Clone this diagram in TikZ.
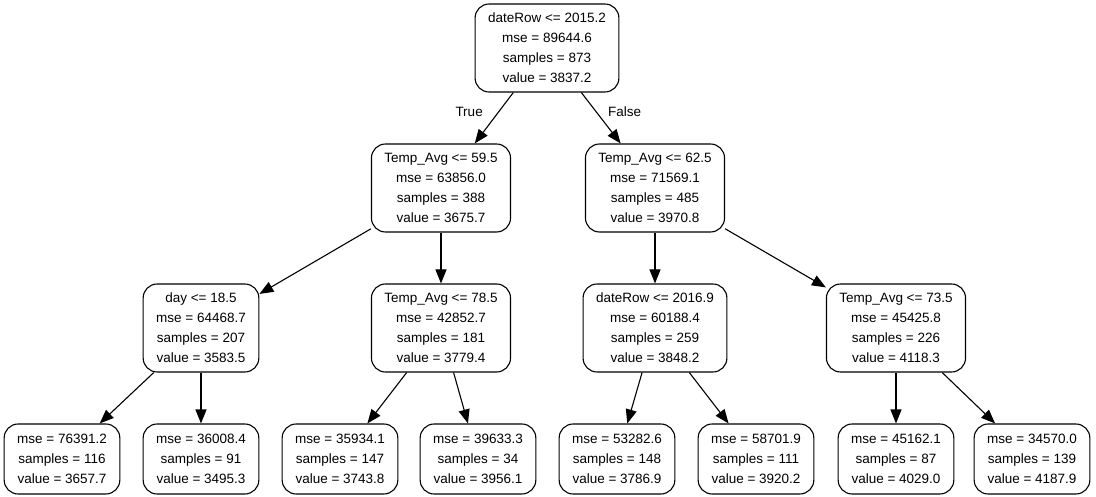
\documentclass[tikz,border=0pt]{standalone}
\usepackage{fontspec}
\setmainfont{Liberation Sans}
\usetikzlibrary{arrows.meta,positioning}

\begin{document}
\begin{tikzpicture}[x=1pt,y=-1pt,on grid,>={Triangle[length=14pt,width=11pt]},
    every node/.style={font=\fontsize{13.5}{20}\selectfont},
    split/.style={draw,line width=1.1pt,rounded corners=14pt,align=center,inner xsep=13pt,minimum height=88pt},
    leaf/.style={split,minimum height=70pt}]
      \useasboundingbox (0,0) rectangle (1096,497);

      \node[split] (n_0) at (547,48) {dateRow <= 2015.2\\mse = 89644.6\\samples = 873\\value = 3837.2};

      \node[split] (n_1) [below left=140pt and 106pt of n_0] {Temp\_Avg <= 59.5\\mse = 63856.0\\samples = 388\\value = 3675.7};
      \node[split] (n_2) [below right=140pt and 108pt of n_0] {Temp\_Avg <= 62.5\\mse = 71569.1\\samples = 485\\value = 3970.8};

      \node[split] (n_11) [below left=140pt and 240pt of n_1] {day <= 18.5\\mse = 64468.7\\samples = 207\\value = 3583.5};
      \node[split] (n_12) [below=140pt of n_1] {Temp\_Avg <= 78.5\\mse = 42852.7\\samples = 181\\value = 3779.4};
      \node[split] (n_21) [below=140pt of n_2] {dateRow <= 2016.9\\mse = 60188.4\\samples = 259\\value = 3848.2};
      \node[split] (n_22) [below right=140pt and 241pt of n_2] {Temp\_Avg <= 73.5\\mse = 45425.8\\samples = 226\\value = 4118.3};

      \node[leaf] (n_111) [below left=131pt and 139pt of n_11] {mse = 76391.2\\samples = 116\\value = 3657.7};
      \node[leaf] (n_112) [below=131pt of n_11] {mse = 36008.4\\samples = 91\\value = 3495.3};
      \node[leaf] (n_121) [below left=131pt and 101pt of n_12] {mse = 35934.1\\samples = 147\\value = 3743.8};
      \node[leaf] (n_122) [below right=131pt and 37pt of n_12] {mse = 39633.3\\samples = 34\\value = 3956.1};
      \node[leaf] (n_211) [below left=131pt and 38pt of n_21] {mse = 53282.6\\samples = 148\\value = 3786.9};
      \node[leaf] (n_212) [below right=131pt and 101pt of n_21] {mse = 58701.9\\samples = 111\\value = 3920.2};
      \node[leaf] (n_221) [below=131pt of n_22] {mse = 45162.1\\samples = 87\\value = 4029.0};
      \node[leaf] (n_222) [below right=131pt and 136pt of n_22] {mse = 34570.0\\samples = 139\\value = 4187.9};

      \path[->,line width=1.1pt]
        (n_0) edge node[pos=.38,left=12pt] {True} (n_1)
        (n_0) edge node[pos=.38,right=8pt] {False} (n_2)

        (n_1) edge (n_11)
        (n_1) edge (n_12)
        (n_2) edge (n_21)
        (n_2) edge (n_22)

        (n_11) edge (n_111)
        (n_11) edge (n_112)
        (n_12) edge (n_121)
        (n_12) edge (n_122)
        (n_21) edge (n_211)
        (n_21) edge (n_212)
        (n_22) edge (n_221)
        (n_22) edge (n_222);
    \end{tikzpicture}
\end{document}
